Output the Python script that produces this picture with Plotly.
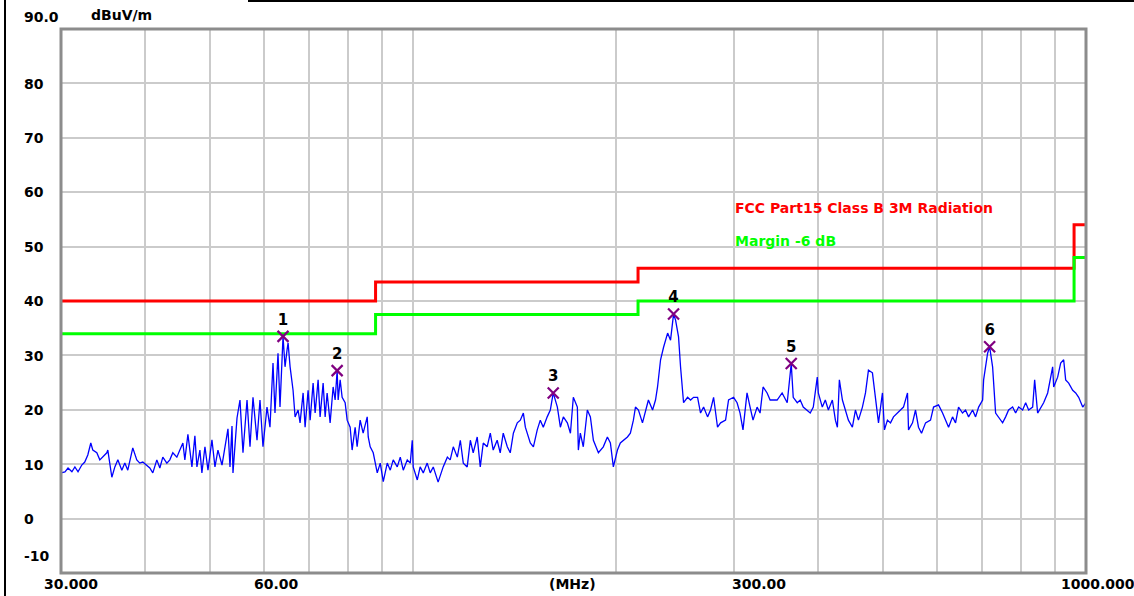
import plotly.graph_objects as go
import math

# ---- data ----
freq_mhz = [30.00, 30.41, 30.73, 31.14, 31.46, 31.80, 32.21, 32.54, 32.88, 33.22, 33.45, 33.91, 34.26, 34.61, 35.09, 35.21,
            35.70, 36.07, 36.44, 36.94, 37.32, 37.70, 38.22, 38.35, 38.88, 39.28, 39.69, 40.23, 40.65, 41.07, 41.64, 42.07,
            42.50, 43.09, 43.53, 43.98, 44.59, 45.05, 45.52, 45.83, 46.31, 46.95, 47.43, 47.76, 48.25, 48.58, 49.09, 49.60,
            50.28, 50.80, 51.32, 52.04, 52.57, 53.11, 53.48, 53.85, 54.03, 54.78,
            55.34, 55.91, 56.69, 57.27, 57.86, 58.66, 59.26, 59.87, 60.70, 61.32, 61.96, 62.38, 63.03, 63.46, 64.12, 64.56,
            65.01, 65.24, 65.69, 66.14, 66.36, 66.82, 67.51, 67.97, 68.68, 69.15, 69.86, 70.35, 71.07, 71.56, 72.30, 72.79,
            73.55, 74.06, 74.56, 75.33, 76.11, 76.63, 77.16, 77.43, 77.96, 78.49, 79.30, 79.85, 80.67, 81.22, 82.06, 82.62,
            83.48, 84.34, 85.52, 85.82, 86.40, 87.30, 88.51, 89.42, 90.35, 91.59, 92.54, 93.48, 94.78, 95.76, 96.75, 98.08,
            99.09, 99.77, 100.1, 101.5, 102.5, 103.6, 105.0, 106.1, 107.2, 109.0, 110.9, 112.5, 113.6, 114.8, 116.4, 117.6,
            118.8, 120.4, 121.7, 122.9, 124.6, 125.9, 127.2, 128.9, 130.3, 131.6, 133.4, 134.8, 136.2, 138.1, 139.5, 141.0,
            142.9, 144.4, 145.9, 146.9, 149.4, 151.0, 153.0, 154.6, 156.2, 158.3, 160.0, 161.6, 163.9, 165.6, 167.3, 169.6,
            171.4, 173.1, 175.5, 176.1, 177.3, 179.1, 181.6, 183.5, 185.4, 188.6, 191.8, 194.5, 196.5, 198.5, 201.3, 203.3,
            205.4, 208.3, 210.4,
            212.6, 214.1, 216.3, 219.3, 221.6, 223.8, 227.0, 229.3, 230.9, 233.3, 235.7, 239.0, 241.4, 243.9, 245.6, 248.1,
            249.8, 252.4, 255.9, 258.5, 261.2, 264.8, 267.5, 270.3, 274.0, 276.8, 279.7, 283.5, 286.5, 291.4, 294.4, 299.5,
            303.1, 306.2, 309.3, 313.6, 316.9, 320.1, 324.6, 327.9, 331.3, 335.9, 339.4, 342.9, 347.6, 353.6, 359.8, 364.8,
            367.3, 372.4, 376.2, 380.1, 385.4, 389.3, 393.4, 398.8, 400.2, 405.7, 409.9, 414.2, 419.9, 424.3, 427.2, 430.1,
            434.6, 439.1, 443.6, 449.7, 454.4, 459.1, 465.4, 470.3, 475.1, 481.6, 486.6, 491.7, 498.4, 501.8, 507.0, 512.3,
            517.6, 524.7, 530.2, 535.6, 543.0, 544.9, 552.4, 558.1, 563.8, 569.7, 577.6, 587.5, 593.6, 603.8, 612.2, 618.5,
            624.9, 633.4, 640.0, 646.6, 655.5, 662.3, 669.2, 678.4, 685.4, 692.6, 702.1, 704.5, 714.2, 719.1, 726.5, 734.0,
            741.6, 751.8, 759.6, 767.4, 778.0, 786.0, 794.2, 805.1, 813.5, 821.8, 833.2, 838.9, 847.5, 856.3, 865.1, 877.1,
            886.1, 892.2, 895.3, 907.6, 917.0, 926.5, 932.8, 942.5, 955.5, 965.3, 975.3, 988.8, 1000.0]

level_dbuv = [8.4, 8.6, 9.3, 8.6, 9.5, 8.6, 9.85, 10.4, 11.7, 13.9, 12.6, 12.1, 10.8, 11.3, 12.1, 12.6,
              7.6, 9.5, 10.8, 8.9, 10.2, 8.9, 12.1, 13.0, 10.8, 10.2, 10.4, 9.85, 9.3, 8.4, 10.8, 9.3,
              11.3, 10.2, 10.8, 12.1, 11.3, 12.6, 13.9, 10.8, 15.5, 9.5, 15.2, 9.5, 12.6, 8.4, 13.2, 8.9,
              14.5, 9.5, 12.6, 9.85, 13.2, 16.5, 9.5, 17.0, 8.4, 18.5,
              21.8, 12.1, 21.8, 13.2, 22.3, 14.4, 21.8, 13.2, 20.5, 16.8, 28.6, 19.4, 30.4, 20.5, 33.5, 27.9,
              31.0, 32.3, 27.9, 24.9, 23.6, 18.7, 19.96, 17.6, 23.1, 16.8, 23.6, 18.1, 24.9, 19.4, 25.5, 18.7,
              24.9, 18.7, 23.1, 17.6, 24.2, 21.8, 27.2, 21.8, 25.5, 22.3, 21.3, 18.1, 16.8, 12.6, 16.8, 13.2,
              18.1, 15.7, 18.7, 15.0, 13.2, 12.1, 8.4, 10.2, 6.8, 10.2, 8.9, 10.8, 9.5, 11.3, 8.9, 10.8,
              10.2, 14.4, 9.5, 7.1, 9.5, 8.4, 10.2, 8.4, 9.5, 6.7, 9.5, 11.3, 10.8, 13.2, 11.3, 14.4,
              10.2, 9.5, 14.4, 12.1, 15.0, 9.5, 13.9, 13.2, 15.7, 12.6, 14.4, 12.1, 15.7, 13.2, 12.1, 15.7,
              17.6, 18.1, 19.4, 16.8, 13.9, 13.2, 16.3, 18.1, 16.8, 18.7, 19.96, 23.1, 20.5, 16.8, 18.7, 17.6,
              15.7, 22.3, 20.5, 12.6, 15.7, 13.2, 19.96, 18.7, 14.4, 12.1, 13.2, 15.0, 13.9, 9.5, 12.6, 13.9,
              14.4, 15.0, 15.7,
              18.1, 20.5, 19.96, 17.6, 19.96, 21.8, 19.96, 21.8, 24.2, 29.2, 31.5, 34.1, 32.8, 37.6, 36.5, 33.4,
              27.9, 21.3, 22.3, 21.8, 22.3, 22.3, 19.4, 20.5, 18.7, 19.96, 22.3, 16.8, 17.6, 18.1, 21.8, 22.3,
              21.3, 19.4, 16.3, 23.1, 20.5, 18.1, 20.5, 19.4, 24.2, 23.1, 21.8, 21.8, 21.8, 23.1, 21.3, 28.5,
              22.3, 21.3, 21.8, 20.5, 19.96, 19.4, 20.5, 26.0, 23.1, 20.5, 21.8, 19.96, 21.8, 18.1, 16.8, 25.5,
              21.8, 19.96, 18.1, 16.8, 19.96, 18.1, 20.5, 23.1, 27.3, 26.8, 22.3, 17.6, 23.1, 16.3, 18.1, 17.6,
              18.7, 19.4, 19.96, 20.5, 23.1, 16.3, 17.6, 19.96, 16.8, 15.7, 17.6, 18.1, 20.5, 20.9, 19.4, 18.1,
              16.8, 18.7, 17.6, 20.5, 19.4, 19.96, 18.7, 19.96, 18.7, 20.5, 21.8, 25.5, 30.4, 31.6, 27.9, 19.4,
              18.7, 17.6, 18.7, 19.96, 20.5, 19.4, 20.5, 19.96, 21.3, 19.96, 20.5, 25.5, 19.4, 20.5, 21.3, 23.1,
              26.0, 27.9, 24.2, 26.0, 28.6, 29.2, 25.5, 24.9, 23.6, 23.1, 22.3, 20.5, 21.3]

limit_freq = [30, 88, 216, 960, 1000]
limit_level = [40.0, 43.5, 46.0, 54.0, 54.0]
margin_db = -6
margin_level = [v + margin_db for v in limit_level]

peak_labels = ["1", "2", "3", "4", "5", "6"]
peak_freq = [64.12, 77.16, 161.6, 243.9, 364.8, 719.1]
peak_level = [33.5, 27.2, 23.1, 37.6, 28.5, 31.6]

y_ticks = [80, 70, 60, 50, 40, 30, 20, 10, 0]
x_grid = [40, 50, 60, 70, 80, 90, 100, 200, 300, 400, 500, 600, 700, 800, 900]
x_labels = ["30.000", "60.00", "(MHz)", "300.00", "1000.000"]

# ---- figure geometry (pixels of the 1134x596 page) ----
W, H = 1134, 596
L, R, T, B = 61, 1086, 29, 573


def px(x):
    return (x - L) / (R - L)


def py(y):
    return (B - y) / (B - T)


FONT = "DejaVu Sans"
FS = 14
fig = go.Figure()

fig.add_trace(go.Scatter(x=freq_mhz, y=level_dbuv, mode="lines",
                         line=dict(color="#0000ff", width=1.3), hoverinfo="skip", showlegend=False))
fig.add_trace(go.Scatter(x=limit_freq, y=limit_level, mode="lines", line_shape="hv",
                         line=dict(color="#ff0000", width=3), showlegend=False))
fig.add_trace(go.Scatter(x=limit_freq, y=margin_level, mode="lines", line_shape="hv",
                         line=dict(color="#00ff00", width=3), showlegend=False))
fig.add_trace(go.Scatter(x=peak_freq, y=peak_level, mode="markers+text", text=peak_labels,
                         textposition="top center",
                         textfont=dict(family=FONT, size=15, color="#000000", weight="bold"),
                         marker=dict(symbol="x-thin", size=11, line=dict(color="#800080", width=2.2)),
                         showlegend=False))

ann = []
ann.append(dict(text="90.0", x=px(22), y=py(17)))
ann.append(dict(text="dBuV/m", x=px(89), y=py(15)))
ylab_y = {80: 84, 70: 138, 60: 192, 50: 247, 40: 301, 30: 356, 20: 410, 10: 465, 0: 519}
for v in y_ticks:
    ann.append(dict(text=str(v), x=px(22), y=py(ylab_y[v])))
ann.append(dict(text="-10", x=px(22), y=py(556)))
for lab, cx in zip(x_labels, [71, 276, 572, 759, 1098]):
    ann.append(dict(text=lab, x=px(cx), y=py(584), xanchor="center"))
annotations = []
for a in ann:
    d = dict(xref="paper", yref="paper", showarrow=False, xanchor=a.get("xanchor", "left"), yanchor="middle",
             font=dict(family=FONT, size=FS, color="#000000", weight="bold"))
    d.update({k: v for k, v in a.items() if k != "xanchor"})
    annotations.append(d)
annotations.append(dict(xref="paper", yref="paper", x=px(733), y=py(208), xanchor="left", yanchor="middle",
                        text="FCC Part15 Class B 3M Radiation", showarrow=False,
                        font=dict(family=FONT, size=FS, color="#ff0000", weight="bold")))
annotations.append(dict(xref="paper", yref="paper", x=px(733), y=py(241), xanchor="left", yanchor="middle",
                        text="Margin -6 dB", showarrow=False,
                        font=dict(family=FONT, size=FS, color="#00ff00", weight="bold")))

shapes = [
    dict(type="rect", xref="paper", yref="paper", x0=0, x1=1, y0=0, y1=1,
         line=dict(color="#8c8c8c", width=3), layer="above"),
    dict(type="line", xref="paper", yref="paper", x0=px(5), x1=px(5), y0=py(0), y1=py(H),
         line=dict(color="#000000", width=2)),
    dict(type="line", xref="paper", yref="paper", x0=px(248), x1=px(W), y0=py(1), y1=py(1),
         line=dict(color="#000000", width=2)),
]

fig.update_layout(
    width=W, height=H, autosize=False,
    margin=dict(l=L, r=W - R, t=T, b=H - B, pad=0),
    paper_bgcolor="#ffffff", plot_bgcolor="#ffffff",
    showlegend=False,
    annotations=annotations, shapes=shapes,
    xaxis=dict(type="log", range=[math.log10(30), math.log10(1000)], tickvals=x_grid,
               showticklabels=False, ticks="", showgrid=True, gridcolor="#cbcbcb", gridwidth=2,
               zeroline=False, showline=False, fixedrange=True),
    yaxis=dict(range=[-10, 90], dtick=10, tick0=0, showticklabels=False, ticks="",
               showgrid=True, gridcolor="#cbcbcb", gridwidth=2, zeroline=False, showline=False,
               fixedrange=True),
)

fig.write_html("out.html", config={"displayModeBar": False},
               post_script="document.body.style.margin='0';document.body.style.overflow='hidden';")
